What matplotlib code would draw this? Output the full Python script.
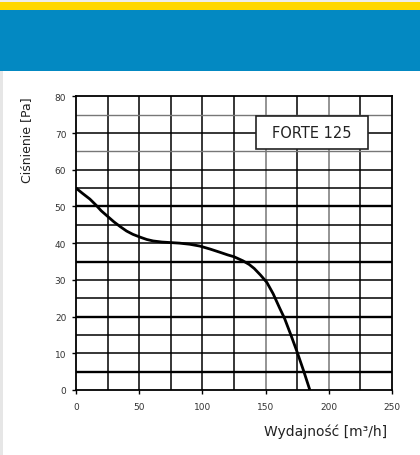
import matplotlib
matplotlib.use("Agg")
import matplotlib.pyplot as plt
from matplotlib.patches import Rectangle

# Data
flow = [0, 5, 11, 16, 20, 25, 30, 35, 40, 45, 51, 56, 61, 68, 75, 82, 90, 98, 106, 114, 120, 125,
        132, 137, 141, 146, 151, 156, 161, 165, 170, 175, 180, 185]
pressure = [55, 53.6, 52, 50.3, 48.8, 47.3, 45.8, 44.5, 43.3, 42.4, 41.6, 41.0, 40.6, 40.3, 40.15, 40.0, 39.7, 39.2, 38.4, 37.5, 36.8, 36.3,
            35.2, 34.2, 33.1, 31.3, 29.3, 26.2, 22.4, 19.5, 15.0, 10.3, 5.3, 0]
x_ticks = [0, 50, 100, 150, 200, 250]
y_ticks = [0, 10, 20, 30, 40, 50, 60, 70, 80]
label_box = "FORTE 125"
x_label = "Wydajność [m³/h]"
y_label = "Ciśnienie [Pa]"

W, H = 420, 456
fig = plt.figure(figsize=(W / 100, H / 100), dpi=100)
fig.patch.set_facecolor("white")

def px_rect(x0, y0, x1, y1, color):
    fig.patches.append(Rectangle((x0 / W, 1 - y1 / H), (x1 - x0) / W, (y1 - y0) / H,
                                 transform=fig.transFigure, facecolor=color,
                                 edgecolor="none", zorder=0))

px_rect(0, 0, W, 3, "#ececec")
px_rect(0, 3, W, 11, "#FFD700")
px_rect(0, 11, W, 72, "#0389C2")
px_rect(0, 72, 3, H, "#e6e6e6")

ax = fig.add_axes([76 / W, 1 - 391 / H, (392 - 76) / W, (391 - 97.3) / H])
ax.set_xlim(0, 250)
ax.set_ylim(0, 80)

# grid
for gx in range(25, 250, 25):
    c = "#777777" if gx in (150, 200) else "black"
    ax.axvline(gx, color=c, lw=1.1, zorder=1)
for gy in range(5, 80, 5):
    if gy in (65, 75):
        c, lw = "#777777", 1.0
    elif gy in (5, 20, 35, 50):
        c, lw = "black", 1.7
    else:
        c, lw = "black", 1.1
    ax.axhline(gy, color=c, lw=lw, zorder=1)

for s in ax.spines.values():
    s.set_linewidth(1.3)
    s.set_color("black")

ax.plot(flow, pressure, color="black", lw=2.0, zorder=3,
        solid_capstyle="butt", solid_joinstyle="round")

ax.set_xticks(x_ticks)
ax.set_yticks(y_ticks)
ax.tick_params(axis="both", direction="out", length=3, width=1, labelsize=6.5,
               labelcolor="#333333", pad=4)
ax.tick_params(axis="x", pad=6)

# label box
ax.add_patch(Rectangle((0.5696, 0.8206), 0.3554, 0.1114, transform=ax.transAxes,
                       facecolor="white", edgecolor="#222222", lw=1.2, zorder=4))
ax.text(0.5696 + 0.3554 / 2, 0.8206 + 0.1114 / 2, label_box, transform=ax.transAxes,
        ha="center", va="center", fontsize=10.5, color="#222222", zorder=5)

fig.text(27 / W, 1 - 140 / H, y_label, rotation=90, ha="center", va="center",
         fontsize=9, color="#222222")
fig.text(326 / W, 1 - 432 / H, x_label, ha="center", va="center",
         fontsize=10, color="#222222")

fig.savefig("out.png", dpi=100)
